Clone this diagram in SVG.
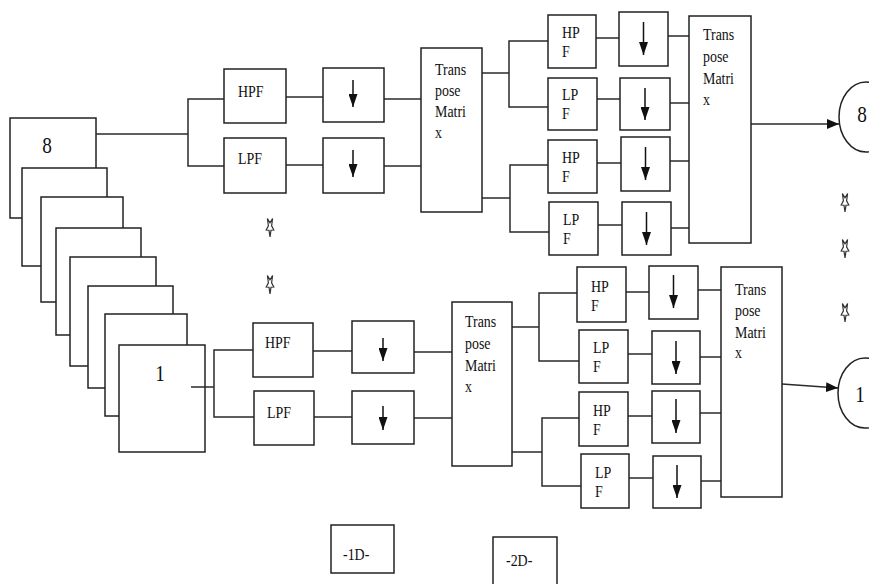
<svg xmlns="http://www.w3.org/2000/svg" width="869" height="584" viewBox="0 0 869 584">
<style>
.b{fill:#fff;stroke:#222;stroke-width:1.5}
.c{fill:none;stroke:#2a2a2a;stroke-width:1.5}
.t{font-family:"Liberation Serif",serif;font-size:17px;fill:#111}
.d{font-family:"Liberation Serif",serif;font-size:24px;fill:#111;text-anchor:middle}
.s{fill:none;stroke:#333;stroke-width:1.2}
.a{fill:none;stroke:#111;stroke-width:1.5}
</style>
<defs>
<marker id="ah" markerUnits="userSpaceOnUse" markerWidth="12" markerHeight="10" refX="12" refY="5" orient="auto"><path d="M0,0 L12,5 L0,10 z" fill="#111"/></marker>
<marker id="dh" markerUnits="userSpaceOnUse" markerWidth="13" markerHeight="9" refX="13" refY="4.5" orient="auto"><path d="M0,0 L13,4.5 L0,9 z" fill="#111"/></marker>
<polygon id="star" points="0,10 -1,3.2 -3.8,3 -1.6,-1.2 -2.6,-8.5 0,-4.2 2.6,-8.5 1.6,-1.2 3.8,3 1,3.2"/>
</defs>
<rect width="869" height="584" fill="#fff"/>

<!-- stack of frames, back to front -->
<g id="frame8"><rect class="b" x="10" y="118" width="86" height="100"/><text class="d" transform="translate(47,153) scale(0.8,1)">8</text></g>
<g id="frame7"><rect class="b" x="22" y="168" width="85" height="98"/></g>
<g id="frame6"><rect class="b" x="41" y="197" width="82" height="105"/></g>
<g id="frame5"><rect class="b" x="56" y="228" width="85" height="107"/></g>
<g id="frame4"><rect class="b" x="70" y="257" width="86" height="109"/></g>
<g id="frame3"><rect class="b" x="88" y="286" width="85" height="102"/></g>
<g id="frame2"><rect class="b" x="105" y="314" width="82" height="102"/></g>
<g id="frame1"><rect class="b" x="119" y="345" width="86" height="107"/><text class="d" transform="translate(160,381) scale(0.8,1)">1</text></g>

<g id="connectors">
<!-- top -->
<polyline class="c" points="96,134 188,134"/>
<polyline class="c" points="224,99 188,99 188,166 224,166"/>
<line class="c" x1="286" y1="97" x2="323" y2="97"/>
<line class="c" x1="286" y1="165" x2="323" y2="165"/>
<line class="c" x1="384" y1="99" x2="421" y2="99"/>
<line class="c" x1="384" y1="166" x2="421" y2="166"/>
<polyline class="c" points="482,73 509,73"/>
<polyline class="c" points="548,41 509,41 509,107 548,107"/>
<polyline class="c" points="482,198 510,198"/>
<polyline class="c" points="548,165 510,165 510,232 549,232"/>
<line class="c" x1="596" y1="38" x2="619" y2="38"/>
<line class="c" x1="597" y1="99" x2="620" y2="99"/>
<line class="c" x1="597" y1="163" x2="621" y2="163"/>
<line class="c" x1="598" y1="225" x2="622" y2="225"/>
<line class="c" x1="668" y1="36" x2="689" y2="36"/>
<line class="c" x1="670" y1="103" x2="689" y2="103"/>
<line class="c" x1="670" y1="161" x2="689" y2="161"/>
<line class="c" x1="671" y1="228" x2="689" y2="228"/>
<line class="c" x1="751" y1="124" x2="839" y2="124" marker-end="url(#ah)"/>
<!-- bottom -->
<line class="c" x1="191" y1="387" x2="214" y2="387"/>
<polyline class="c" points="253,350 214,350 214,417 254,417"/>
<line class="c" x1="313" y1="351" x2="352" y2="351"/>
<line class="c" x1="314" y1="417" x2="352" y2="417"/>
<line class="c" x1="414" y1="352" x2="452" y2="352"/>
<line class="c" x1="414" y1="418" x2="452" y2="418"/>
<polyline class="c" points="512,327 539,327"/>
<polyline class="c" points="577,293 539,293 539,361 579,361"/>
<polyline class="c" points="512,452 542,452"/>
<polyline class="c" points="579,418 542,418 542,486 581,486"/>
<line class="c" x1="626" y1="292" x2="649" y2="292"/>
<line class="c" x1="628" y1="354" x2="652" y2="354"/>
<line class="c" x1="628" y1="416" x2="652" y2="416"/>
<line class="c" x1="629" y1="478" x2="653" y2="478"/>
<line class="c" x1="698" y1="290" x2="721" y2="290"/>
<line class="c" x1="700" y1="357" x2="721" y2="357"/>
<line class="c" x1="700" y1="413" x2="721" y2="413"/>
<line class="c" x1="701" y1="481" x2="721" y2="481"/>
<line class="c" x1="782" y1="384" x2="838" y2="388" marker-end="url(#ah)"/>
</g>

<!-- top 1D stage -->
<g id="hpf1"><rect class="b" x="224" y="69" width="62" height="54"/><text class="t" transform="translate(238,97) scale(0.82,1)">HPF</text></g>
<g id="lpf1"><rect class="b" x="224" y="138" width="62" height="55"/><text class="t" transform="translate(238,164) scale(0.82,1)">LPF</text></g>
<g id="ds1a"><rect class="b" x="323" y="68" width="61" height="54"/><line class="a" x1="353" y1="80" x2="353" y2="107" marker-end="url(#dh)"/></g>
<g id="ds1b"><rect class="b" x="323" y="138" width="61" height="55"/><line class="a" x1="353" y1="150" x2="353" y2="177" marker-end="url(#dh)"/></g>
<g id="tm1"><rect class="b" x="421" y="48" width="61" height="164"/>
<text class="t" transform="translate(435,75) scale(0.82,1)">Trans</text>
<text class="t" transform="translate(435,96) scale(0.82,1)">pose</text>
<text class="t" transform="translate(435,117) scale(0.82,1)">Matri</text>
<text class="t" transform="translate(435,138) scale(0.82,1)">x</text></g>

<!-- top 2D stage -->
<g id="f2a"><rect class="b" x="548" y="15" width="48" height="53"/><text class="t" transform="translate(562,38) scale(0.82,1)">HP</text><text class="t" transform="translate(562,57) scale(0.82,1)">F</text></g>
<g id="f2b"><rect class="b" x="548" y="78" width="49" height="52"/><text class="t" transform="translate(562,100) scale(0.82,1)">LP</text><text class="t" transform="translate(562,119) scale(0.82,1)">F</text></g>
<g id="f2c"><rect class="b" x="548" y="140" width="49" height="53"/><text class="t" transform="translate(562,163) scale(0.82,1)">HP</text><text class="t" transform="translate(562,182) scale(0.82,1)">F</text></g>
<g id="f2d"><rect class="b" x="549" y="202" width="49" height="53"/><text class="t" transform="translate(563,225) scale(0.82,1)">LP</text><text class="t" transform="translate(563,244) scale(0.82,1)">F</text></g>
<g id="ds2a"><rect class="b" x="619" y="12" width="49" height="54"/><line class="a" x1="643.5" y1="22" x2="643.5" y2="55" marker-end="url(#dh)"/></g>
<g id="ds2b"><rect class="b" x="620" y="78" width="50" height="52"/><line class="a" x1="645" y1="88" x2="645" y2="120" marker-end="url(#dh)"/></g>
<g id="ds2c"><rect class="b" x="621" y="137" width="49" height="54"/><line class="a" x1="645.5" y1="147" x2="645.5" y2="180" marker-end="url(#dh)"/></g>
<g id="ds2d"><rect class="b" x="622" y="202" width="49" height="53"/><line class="a" x1="646.5" y1="212" x2="646.5" y2="245" marker-end="url(#dh)"/></g>
<g id="tm2"><rect class="b" x="689" y="16" width="62" height="227"/>
<text class="t" transform="translate(703,40) scale(0.82,1)">Trans</text>
<text class="t" transform="translate(703,62) scale(0.82,1)">pose</text>
<text class="t" transform="translate(703,84) scale(0.82,1)">Matri</text>
<text class="t" transform="translate(703,105) scale(0.82,1)">x</text></g>
<g id="out8"><ellipse class="b" cx="866" cy="117" rx="27" ry="35"/><text class="d" transform="translate(862,122) scale(0.8,1)">8</text></g>

<!-- bottom 1D stage -->
<g id="hpf3"><rect class="b" x="253" y="323" width="60" height="54"/><text class="t" transform="translate(265,348) scale(0.82,1)">HPF</text></g>
<g id="lpf3"><rect class="b" x="254" y="391" width="60" height="54"/><text class="t" transform="translate(267,418) scale(0.82,1)">LPF</text></g>
<g id="ds3a"><rect class="b" x="352" y="321" width="62" height="52"/><line class="a" x1="383" y1="338" x2="383" y2="361" marker-end="url(#dh)"/></g>
<g id="ds3b"><rect class="b" x="352" y="391" width="62" height="53"/><line class="a" x1="383" y1="406" x2="383" y2="430" marker-end="url(#dh)"/></g>
<g id="tm3"><rect class="b" x="452" y="302" width="60" height="164"/>
<text class="t" transform="translate(465,327) scale(0.82,1)">Trans</text>
<text class="t" transform="translate(465,349) scale(0.82,1)">pose</text>
<text class="t" transform="translate(465,371) scale(0.82,1)">Matri</text>
<text class="t" transform="translate(465,392) scale(0.82,1)">x</text></g>

<!-- bottom 2D stage -->
<g id="f4a"><rect class="b" x="577" y="267" width="49" height="55"/><text class="t" transform="translate(591,292) scale(0.82,1)">HP</text><text class="t" transform="translate(591,311) scale(0.82,1)">F</text></g>
<g id="f4b"><rect class="b" x="579" y="330" width="49" height="53"/><text class="t" transform="translate(593,353) scale(0.82,1)">LP</text><text class="t" transform="translate(593,372) scale(0.82,1)">F</text></g>
<g id="f4c"><rect class="b" x="579" y="392" width="49" height="54"/><text class="t" transform="translate(593,416) scale(0.82,1)">HP</text><text class="t" transform="translate(593,435) scale(0.82,1)">F</text></g>
<g id="f4d"><rect class="b" x="581" y="454" width="48" height="54"/><text class="t" transform="translate(595,478) scale(0.82,1)">LP</text><text class="t" transform="translate(595,497) scale(0.82,1)">F</text></g>
<g id="ds4a"><rect class="b" x="649" y="266" width="49" height="53"/><line class="a" x1="673.5" y1="275" x2="673.5" y2="308" marker-end="url(#dh)"/></g>
<g id="ds4b"><rect class="b" x="652" y="331" width="48" height="53"/><line class="a" x1="676" y1="341" x2="676" y2="374" marker-end="url(#dh)"/></g>
<g id="ds4c"><rect class="b" x="652" y="391" width="48" height="52"/><line class="a" x1="676" y1="399" x2="676" y2="433" marker-end="url(#dh)"/></g>
<g id="ds4d"><rect class="b" x="653" y="456" width="48" height="52"/><line class="a" x1="677" y1="465" x2="677" y2="498" marker-end="url(#dh)"/></g>
<g id="tm4"><rect class="b" x="721" y="267" width="61" height="230"/>
<text class="t" transform="translate(735,295) scale(0.82,1)">Trans</text>
<text class="t" transform="translate(735,316) scale(0.82,1)">pose</text>
<text class="t" transform="translate(735,338) scale(0.82,1)">Matri</text>
<text class="t" transform="translate(735,358) scale(0.82,1)">x</text></g>
<g id="out1"><ellipse class="b" cx="865" cy="393" rx="27" ry="35"/><text class="d" transform="translate(860,402) scale(0.8,1)">1</text></g>

<!-- ellipsis markers -->
<g id="dots">
<use href="#star" class="s" x="270" y="227"/>
<use href="#star" class="s" x="270" y="284"/>
<use href="#star" class="s" x="845" y="202"/>
<use href="#star" class="s" x="845" y="248"/>
<use href="#star" class="s" x="845" y="312"/>
</g>

<!-- legend -->
<g id="legend1d"><rect class="b" x="331" y="525" width="63" height="48"/><text class="t" transform="translate(343,560) scale(0.82,1)">-1D-</text></g>
<g id="legend2d"><rect class="b" x="493" y="537" width="64" height="52"/><text class="t" transform="translate(506,566) scale(0.82,1)">-2D-</text></g>
</svg>
